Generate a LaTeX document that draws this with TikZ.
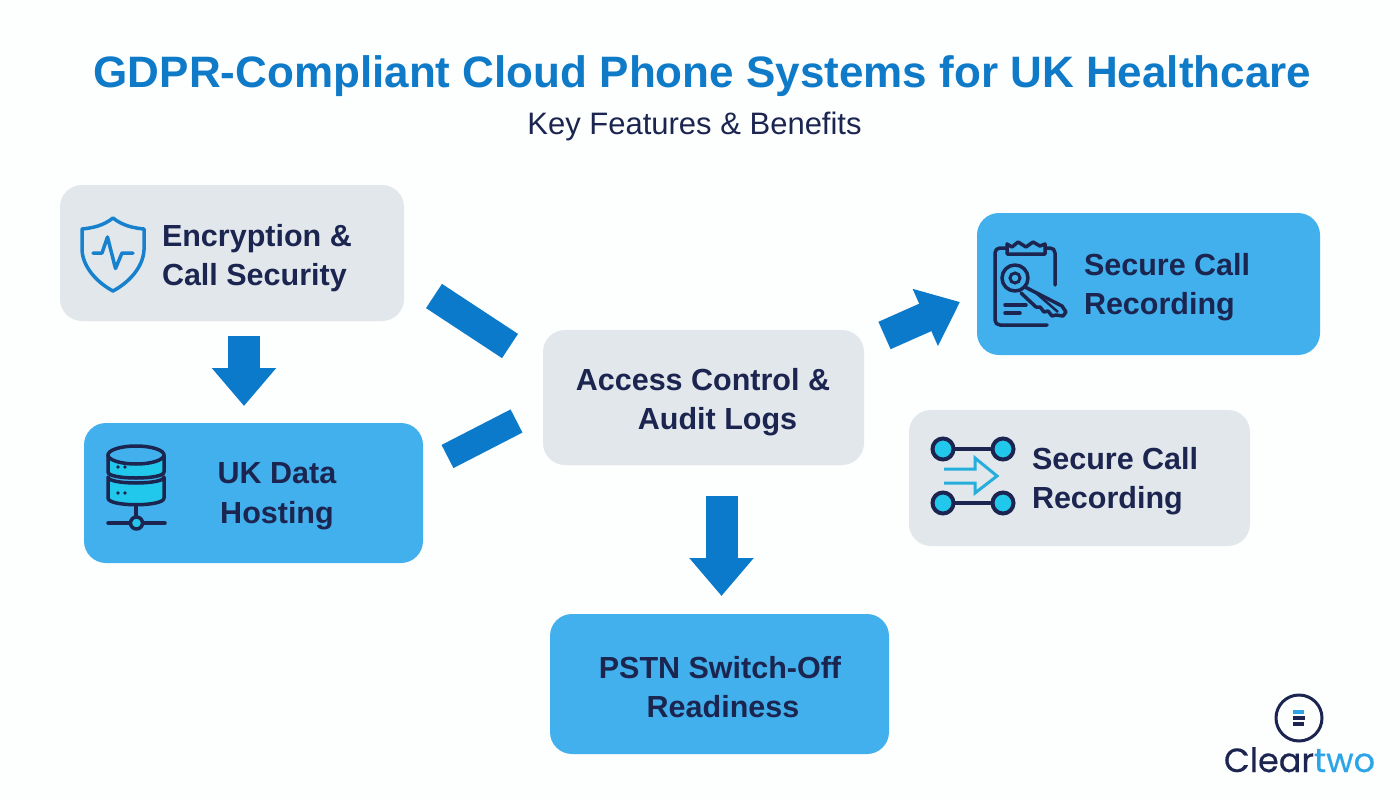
\documentclass[tikz,border=0pt]{standalone}
\usepackage{fontspec}
\setmainfont{Liberation Sans}
\newfontfamily\logofont[FakeBold=0.4]{Poppins}
\usetikzlibrary{arrows.meta}
\definecolor{pagebg}{HTML}{FDFEFE}
\definecolor{navy}{HTML}{1B2550}
\definecolor{titleblue}{HTML}{0F7BC8}
\definecolor{arrowblue}{HTML}{0C7ACB}
\definecolor{boxgray}{HTML}{E1E7EB}
\definecolor{boxblue}{HTML}{42B0EC}
\definecolor{cyanfill}{HTML}{22C8EC}
\definecolor{flowcyan}{HTML}{25AEDC}
\definecolor{logoblue}{HTML}{2BA5E8}
\tikzset{
  x=1pt,y=-1pt,
  boxbase/.style={rounded corners=22pt,inner sep=0pt,outer sep=0pt,draw=none},
  graybox/.style={boxbase,fill=boxgray},
  bluebox/.style={boxbase,fill=boxblue},
  boxlabel/.style={inner sep=0pt,outer sep=0pt,text=navy,font=\bfseries\fontsize{30.5}{39.5}\selectfont},
  blockbar/.style={draw=arrowblue},
  downblock/.style={draw=arrowblue,line width=32pt,-{Triangle[length=38pt,width=62pt]}},
  icondark/.style={draw=navy,line width=3.5pt,line cap=round,line join=round},
}
\begin{document}
\begin{tikzpicture}
\useasboundingbox (0,0) rectangle (1400,800);
\fill[pagebg] (0,0) rectangle (1400,800);
% title
\node[inner sep=0pt,text=titleblue,font=\bfseries\fontsize{44}{50}\selectfont] (title) at (702.5,76) {GDPR-Compliant Cloud Phone Systems for UK Healthcare};
\node[inner sep=0pt,text=navy,font=\fontsize{31}{36}\selectfont] (subtitle) at (694.5,126.5) {Key Features \& Benefits};
% boxes
\node[graybox,minimum width=344pt,minimum height=136pt] (enc) at (232,253) {};
\node[bluebox,minimum width=339pt,minimum height=140pt] (uk) at (253.5,493) {};
\node[graybox,minimum width=321pt,minimum height=135pt] (acc) at (703.5,397.5) {};
\node[bluebox,minimum width=339pt,minimum height=140pt] (pstn) at (719.5,684) {};
\node[bluebox,minimum width=343pt,minimum height=142pt] (recA) at (1148.5,284) {};
\node[graybox,minimum width=341pt,minimum height=136pt] (recB) at (1079.5,478) {};
% labels
\node[boxlabel,anchor=west,align=left] (encl) at (162,258) {Encryption \&\\Call Security};
\node[boxlabel,align=center] (ukl) at (277,496) {UK Data\\Hosting};
\node[boxlabel,align=center] (accl) at (703,402) {Access Control \&\\\hspace*{29pt}Audit Logs};
\node[boxlabel,align=center] (pstnl) at (720,687) {PSTN Switch-Off\\\hspace*{6pt}Readiness};
\node[boxlabel,anchor=west,align=left] (recAl) at (1084,287) {Secure Call\\Recording};
\node[boxlabel,anchor=west,align=left] (recBl) at (1032,481) {Secure Call\\Recording};
% connectors
\coordinate (a1s) at (244,336); \coordinate (a1e) at (244,406);
\draw[downblock] (a1s) -- (a1e);
\coordinate (a2s) at (721.5,496); \coordinate (a2e) at (721.5,596);
\draw[downblock] (a2s) -- (a2e);
\coordinate (b1s) at (434,296); \coordinate (b1e) at (510,346);
\draw[blockbar,line width=29pt] (b1s) -- (b1e);
\coordinate (b2s) at (447.5,456.5); \coordinate (b2e) at (516.5,421);
\draw[blockbar,line width=26pt] (b2s) -- (b2e);
\coordinate (a3s) at (884.5,335.5); \coordinate (a3e) at (960,302);
\draw[draw=arrowblue,line width=30pt,-{Triangle[length=38pt,width=60pt]}] (a3s) -- (a3e);
% shield icon
\draw[draw=arrowblue!95!white,line width=3.5pt,line join=round] (113,218) .. controls (103,226) and (92,228) .. (82,229) -- (82,250) .. controls (83,268) and (98,283) .. (113,291) .. controls (128,283) and (143,268) .. (144,250) -- (144,229) .. controls (134,228) and (123,226) .. (113,218) -- cycle;
\draw[draw=arrowblue!95!white,line width=3.5pt,line join=round,line cap=round] (93,253) -- (102,253) -- (107.5,237) -- (115.5,268.5) -- (122,253) -- (133,253);
% database icon
\draw[icondark,fill=cyanfill] (108,455) -- (108,472) .. controls (108,480) and (164,480) .. (164,472) -- (164,455) -- cycle;
\draw[icondark,fill=cyanfill] (108,477) -- (108,498) .. controls (108,507) and (164,507) .. (164,498) -- (164,477) .. controls (164,485) and (108,485) .. (108,477) -- cycle;
\draw[icondark,fill=boxblue] (136,455) ellipse [x radius=28,y radius=9];
\foreach \px/\py in {118/467,125/467,118/493,125/493}{\fill[navy] (\px,\py) circle [radius=1.8];}
\draw[icondark] (136,505) -- (136,517);
\draw[icondark] (108,523) -- (165,523);
\draw[icondark,fill=cyanfill] (136.5,523) circle [radius=6];
% clipboard and key icon
\draw[icondark] (1007,248) -- (1000,248) .. controls (997,248) and (995,250) .. (995,253) -- (995,320) .. controls (995,323) and (997,325) .. (1000,325) -- (1047,325);
\draw[icondark] (1045,248) -- (1050,248) .. controls (1053,248) and (1055,250) .. (1055,253) -- (1055,285);
\draw[icondark] (1007,254) -- (1007,244) -- (1012,247) -- (1018,242) -- (1026,247) -- (1033,242) -- (1040,246) -- (1045,244) -- (1045,254) -- cycle;
\draw[icondark] (1005,305) -- (1026,305);
\draw[icondark] (1005,313) -- (1020,313);
\draw[icondark] (1015,278) circle [radius=13];
\draw[navy,line width=3pt] (1015,278) circle [radius=5];
\draw[icondark] (1025,287) -- (1062,306) -- (1066,312) -- (1063,316) -- (1056,315) -- (1052,316) -- (1048,311) -- (1044,312) -- (1040,307) -- (1036,307) -- (1021,293);
\draw[navy,line width=2.5pt] (1036,293) -- (1058,312);
% flow icon
\draw[icondark] (943,449) -- (1003,449);
\draw[icondark] (943,503) -- (1003,503);
\foreach \cx/\cy in {943/449,1003/449,943/503,1003/503}{\draw[navy,line width=4pt,fill=cyanfill] (\cx,\cy) circle [radius=10.5];}
\draw[draw=flowcyan,line width=3pt,line join=miter] (944,469) -- (975,469) -- (975,458) -- (997,476) -- (975,493) -- (975,483) -- (944,483);
% logo
\draw[navy,line width=3pt] (1299,718) circle [radius=23];
\draw[logoblue,line width=3.5pt] (1293,712) -- (1304,712);
\draw[navy,line width=3.5pt] (1293,718) -- (1305,718);
\draw[navy,line width=3.5pt] (1293,724) -- (1304,724);
\node[inner sep=0pt,anchor=base,font=\logofont\fontsize{33.5}{40}\selectfont] (logo) at (1299.5,772) {\textcolor{navy}{Clear}\textcolor{logoblue}{two}};
\end{tikzpicture}
\end{document}
